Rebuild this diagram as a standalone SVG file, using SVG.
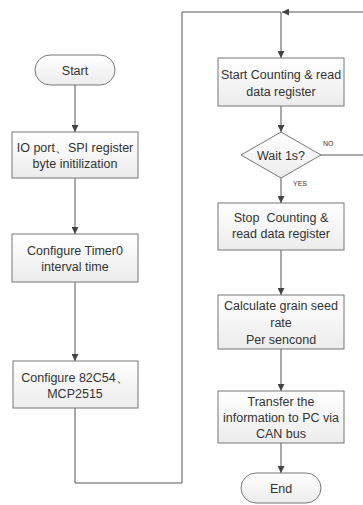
<svg xmlns="http://www.w3.org/2000/svg" width="363" height="505" viewBox="0 0 363 505">
<defs>
<linearGradient id="g" x1="0" y1="0" x2="0" y2="1">
<stop offset="0" stop-color="#ffffff"/>
<stop offset="1" stop-color="#ececec"/>
</linearGradient>
<marker id="arr" viewBox="0 0 10 10" refX="10" refY="5" markerWidth="7" markerHeight="7" markerUnits="userSpaceOnUse" orient="auto">
<path d="M0,0 L10,5 L0,10 z" fill="#444"/>
</marker>
<style>
.box{fill:url(#g);stroke:#777;stroke-width:1}
.t{font-family:"Liberation Sans",Arial,sans-serif;font-size:12.5px;fill:#333;text-anchor:middle}
.s{font-family:"Liberation Sans",Arial,sans-serif;font-size:7px;fill:#333}
.c{fill:none;stroke:#555;stroke-width:1}
</style>
</defs>
<rect width="363" height="505" fill="#fff"/>
<g id="connectors">
<path class="c" d="M75,85 V132" marker-end="url(#arr)"/>
<path class="c" d="M75,178 V234" marker-end="url(#arr)"/>
<path class="c" d="M75,282 V361" marker-end="url(#arr)"/>
<path class="c" d="M75,408 V483 H182 V12 H281 V58" marker-end="url(#arr)"/>
<path class="c" d="M320,155 H372 V12 H282" marker-end="url(#arr)"/>
<path class="c" d="M281,106 V132" marker-end="url(#arr)"/>
<path class="c" d="M281,178 V203" marker-end="url(#arr)"/>
<path class="c" d="M281,250 V295" marker-end="url(#arr)"/>
<path class="c" d="M281,349 V391" marker-end="url(#arr)"/>
<path class="c" d="M281,443 V473" marker-end="url(#arr)"/>
<text class="s" x="323" y="146">NO</text>
<text class="s" x="293" y="186">YES</text>
</g>
<g id="start">
<rect class="box" x="35" y="55" width="80" height="30" rx="15"/>
<text class="t" x="75" y="74.5">Start</text>
</g>
<g id="init">
<rect class="box" x="12" y="132" width="126" height="46"/>
<text class="t" x="75" y="152">IO port、SPI register</text>
<text class="t" x="75" y="168">byte initilization</text>
</g>
<g id="timer">
<rect class="box" x="12" y="234" width="126" height="48"/>
<text class="t" x="75" y="255">Configure Timer0</text>
<text class="t" x="75" y="271">interval time</text>
</g>
<g id="config">
<rect class="box" x="13" y="361" width="125" height="47"/>
<text class="t" x="75" y="382">Configure 82C54、</text>
<text class="t" x="75" y="398">MCP2515</text>
</g>
<g id="startcount">
<rect class="box" x="218" y="58" width="126" height="48"/>
<text class="t" x="281" y="79">Start Counting &amp; read</text>
<text class="t" x="281" y="96">data register</text>
</g>
<g id="wait">
<polygon class="box" points="281,132 321,155 281,178 241,155"/>
<text class="t" x="281" y="159.5">Wait 1s?</text>
</g>
<g id="stopcount">
<rect class="box" x="218" y="203" width="126" height="47"/>
<text class="t" x="281" y="222" xml:space="preserve">Stop  Counting &amp;</text>
<text class="t" x="281" y="238">read data register</text>
</g>
<g id="calc">
<rect class="box" x="218" y="295" width="126" height="54"/>
<text class="t" x="281" y="310">Calculate grain seed</text>
<text class="t" x="281" y="327">rate</text>
<text class="t" x="281" y="344">Per sencond</text>
</g>
<g id="transfer">
<rect class="box" x="218" y="391" width="126" height="52"/>
<text class="t" x="281" y="406">Transfer the</text>
<text class="t" x="281" y="422">information to PC via</text>
<text class="t" x="281" y="438">CAN bus</text>
</g>
<g id="end">
<rect class="box" x="241" y="473" width="80" height="30" rx="15"/>
<text class="t" x="281" y="493">End</text>
</g>
</svg>
